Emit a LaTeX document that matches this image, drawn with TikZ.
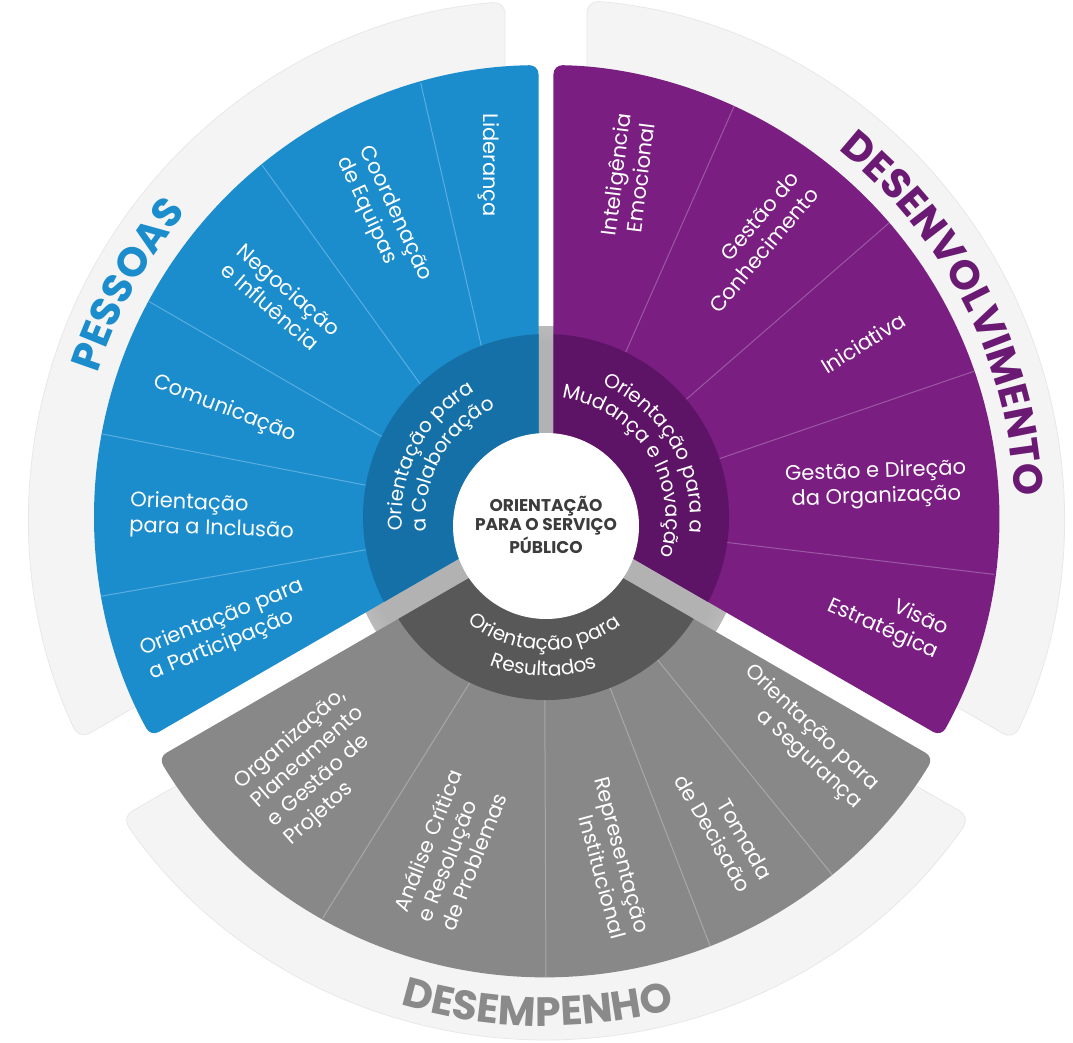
\documentclass[tikz,border=0pt]{standalone}
\usepackage{fontspec}
\setmainfont{Poppins}
\usetikzlibrary{decorations.text}
\definecolor{pblue}{HTML}{1B8CCC}
\definecolor{pblueD}{HTML}{1670A8}
\definecolor{pbline}{HTML}{5AAEE0}
\definecolor{ppur}{HTML}{7A1E82}
\definecolor{ppurD}{HTML}{5E1466}
\definecolor{ppline}{HTML}{9C58A3}
\definecolor{pgray}{HTML}{888888}
\definecolor{pgrayD}{HTML}{585858}
\definecolor{pgline}{HTML}{A8A8A8}
\definecolor{bandc}{HTML}{F4F4F4}
\definecolor{bandline}{HTML}{E8E8E8}
\definecolor{ttlpur}{HTML}{6B1A74}
\definecolor{ttlgray}{HTML}{8A8A8A}
\definecolor{ctrtext}{HTML}{3C3C3C}
\newcommand{\segfont}{\fontsize{21}{25}\selectfont}
\newcommand{\ringfont}{\fontsize{20}{24}\selectfont}
\newcommand{\ttlfont}{\bfseries\fontsize{41}{41}\selectfont}
\newcommand{\ctrfont}{\bfseries\fontsize{17}{19}\selectfont}
\pgfdeclareradialshading{halo}{\pgfpoint{0bp}{0bp}}{color(0bp)=(black!30); color(23bp)=(black!30); color(30bp)=(black!20); color(42bp)=(black!6); color(50bp)=(white)}
\pgfdeclareradialshading{disc}{\pgfpoint{0bp}{0bp}}{color(0bp)=(white); color(36bp)=(white); color(50bp)=(black!12)}
\tikzset{
  segtext/.style={text=white, font=\segfont, inner sep=0pt},
  bandshape/.style={fill=bandc, draw=bandline, line width=0.8pt, rounded corners=12pt},
  bdiv/.style={draw=pbline, line width=1pt},
  pdiv/.style={draw=ppline, line width=1pt},
  gdiv/.style={draw=pgline, line width=1pt},
}
\begin{document}
\begin{tikzpicture}[x=1pt,y=1pt]
\useasboundingbox (-546,-525) rectangle (527,517);
% outer bands
\path[bandshape] (95.60:420) -- (94.54:517) arc[start angle=94.54, end angle=205.46, radius=517] -- (204.40:420) arc[start angle=204.40, end angle=95.60, radius=420] -- cycle;
\path[bandshape] (84.40:420) -- (85.46:518) arc[start angle=85.46, end angle=-25.46, radius=518] -- (-24.40:420) arc[start angle=-24.40, end angle=84.40, radius=420] -- cycle;
\begin{scope}[yshift=-8]
\path[bandshape] (215.60:420) -- (214.54:515) arc[start angle=214.54, end angle=325.46, radius=515] -- (324.40:420) arc[start angle=324.40, end angle=215.60, radius=420] -- cycle;
\end{scope}
% halo
\shade[shading=halo] (0,-9) circle[radius=200];
% blue and purple sectors
\fill[pblue, rounded corners=9pt] (150:8.66) -- (90.95:452) arc[start angle=90.95, end angle=209.05, radius=452] -- cycle;
\fill[ppur, rounded corners=9pt] (30:8.66) -- (-29.05:452) arc[start angle=-29.05, end angle=89.05, radius=452] -- cycle;
\path[bdiv] (106.1:452) -- (110.7:183);
\path[bdiv] (128.9:452) -- (133.4:183);
\path[bdiv] (151.5:452) -- (153.9:183);
\path[bdiv] (169.4:452) -- (170.0:183);
\path[bdiv] (190.1:452) -- (190.3:183);
\path[pdiv] (65.4:452) -- (64.2:183);
\path[pdiv] (40.6:452) -- (40.0:183);
\path[pdiv] (18.8:452) -- (18.6:183);
\path[pdiv] (-7.3:452) -- (-8.0:183);
\fill[pblueD] (150:8.66) -- (92.35:183) arc[start angle=92.35, end angle=207.65, radius=183] -- cycle;
\fill[ppurD] (30:8.66) -- (-27.65:183) arc[start angle=-27.65, end angle=87.65, radius=183] -- cycle;
% gray sector (set slightly lower)
\begin{scope}[yshift=-8]
\fill[pgray, rounded corners=9pt] (270:8.66) -- (210.95:452) arc[start angle=210.95, end angle=329.05, radius=452] -- cycle;
\path[gdiv] (240.4:452) -- (244.2:175);
\path[gdiv] (270.0:452) -- (269.6:175);
\path[gdiv] (291.3:452) -- (291.5:175);
\path[gdiv] (309.3:452) -- (309.6:175);
\fill[pgrayD] (270:8.66) -- (212.45:175) arc[start angle=212.45, end angle=327.55, radius=175] -- cycle;
\path[decorate, decoration={text along path, text align=center, text color=white, text={|\ringfont|Orientação para}}] (209.2:125) arc[start angle=209.2, end angle=329.2, radius=125];
\path[decorate, decoration={text along path, text align=center, text color=white, text={|\ringfont|Resultados}}] (209:151) arc[start angle=209, end angle=329, radius=151];
\path[decorate, decoration={text along path, text align=center, text color=ttlgray, text={|\ttlfont|DESEMPENHO}}] (224:501) arc[start angle=224, end angle=314, radius=501];
\end{scope}
% centre disc
\shade[shading=disc] (0,-9) circle[radius=93];
\node[font=\ctrfont, text=ctrtext, align=center, inner sep=0pt] (ctr) at (0,-8) {ORIENTAÇÃO\\PARA O SERVIÇO\\PÚBLICO};
% ring texts
\path[decorate, decoration={text along path, text align=center, text color=white, text={|\ringfont|Orientação para}}] (212.5:144) arc[start angle=212.5, end angle=92.5, radius=144];
\path[decorate, decoration={text along path, text align=center, text color=white, text={|\ringfont|a Colaboração}}] (211:120) arc[start angle=211, end angle=91, radius=120];
\path[decorate, decoration={text along path, text align=center, text color=white, text={|\ringfont|Orientação para a}}] (90.3:144) arc[start angle=90.3, end angle=-29.7, radius=144];
\path[decorate, decoration={text along path, text align=center, text color=white, text={|\ringfont|Mudança e Inovação}}] (91.7:120) arc[start angle=91.7, end angle=-28.3, radius=120];
% titles
\path[decorate, decoration={text along path, text align=center, text color=pblue, text={|\ttlfont|PESSOAS}}] (181:471) arc[start angle=181, end angle=121, radius=471];
\path[decorate, decoration={text along path, text align=center, text color=ttlpur, text={|\ttlfont|DESENVOLVIMENTO}}] (72:469) arc[start angle=72, end angle=-18, radius=469];
% blue segment texts
\node[segtext, rotate=-90] (lid) at (-57,352) {Liderança};
\node[segtext, rotate=-65, align=left] (coo) at (-162,298) {Coordenação\\de Equipas};
\node[segtext, rotate=-41, align=left] (neg) at (-265,218) {Negociação\\e Influência};
\node[segtext, rotate=-21] (com) at (-321,108) {Comunicação};
\node[segtext, rotate=-2, align=left] (inc) at (-334,0) {Orientação\\para a Inclusão};
\node[segtext, rotate=22, align=left] (par) at (-319,-113) {Orientação para\\a Participação};
% purple segment texts
\node[segtext, rotate=83, align=center] (int) at (82,341) {Inteligência\\Emocional};
\node[segtext, rotate=50, align=right] (ges) at (208,275) {Gestão do\\Conhecimento};
\node[segtext, rotate=32] (ini) at (317,174) {Iniciativa};
\node[segtext, rotate=2, align=center] (gdo) at (330,32) {Gestão e Direção\\da Organização};
\node[segtext, rotate=-24, align=right] (vis) at (342,-101) {Visão\\Estratégica};
% gray segment texts
\node[segtext, rotate=41.5, align=left] (org) at (-230,-250) {Organização,\\Planeamento\\e Gestão de\\Projetos};
\node[segtext, rotate=68.5, align=left] (ana) at (-95,-333) {Análise Crítica\\e Resolução\\de Problemas};
\node[segtext, rotate=-75, align=right] (rep) at (64,-341) {Representação\\Institucional};
\node[segtext, rotate=-60, align=right] (tom) at (178,-310) {Tomada\\de Decisaão};
\node[segtext, rotate=-43, align=right] (segu) at (257,-220) {Orientação para\\a Segurança};
\end{tikzpicture}
\end{document}
